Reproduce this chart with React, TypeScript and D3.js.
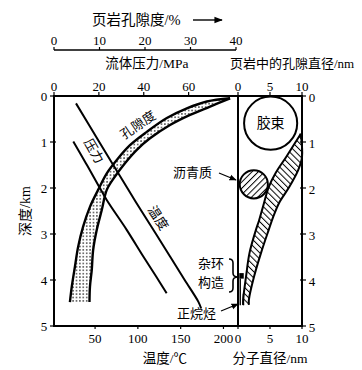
import React from 'react';
import * as d3 from 'd3';

// depth (km) shared by all panels
const depthTicks = [0, 1, 2, 3, 4, 5];
const tempTicks = [50, 100, 150, 200];
const pressureTicks = [0, 20, 40, 60];
const porosityTicks = [0, 10, 20, 30, 40];
const diameterTicks = [0, 5, 10];

// fluid pressure (MPa) vs depth
const pressureDepth = [0.99, 1.46, 1.9, 2.26, 2.91, 3.49, 3.93, 4.29];
const pressureMPa = [8.6, 14.2, 19.3, 23.5, 32.4, 39.8, 45.6, 50.2];

// temperature (°C) vs depth
const tempDepth = [0.16, 1.0, 1.5, 2.04, 2.5, 3.0, 3.5, 4.0, 4.47, 4.62];
const tempC = [27.7, 54.9, 71.2, 88.9, 104.2, 121.2, 138, 154.7, 170.6, 174];

// shale porosity (%) band, two edges
const porUpperDepth = [0.05, 0.12, 0.27, 0.48, 0.78, 1.07, 1.39, 1.68, 2.04, 2.41, 2.84, 3.28, 3.71, 4.15, 4.48];
const porUpper = [38.7, 33.6, 29.2, 24.8, 20.4, 16.7, 13.8, 11.6, 9.7, 7.9, 6.4, 5.3, 4.6, 3.9, 3.5];
const porLowerDepth = [0.05, 0.23, 0.41, 0.63, 0.92, 1.17, 1.46, 1.75, 2.04, 2.48, 2.91, 3.35, 3.78, 4.15, 4.48];
const porLower = [38.7, 34.3, 29.9, 25.5, 21.1, 18.2, 15.6, 13.4, 11.6, 10.5, 9.4, 8.6, 8.3, 7.9, 7.8];

// pore diameter (nm) band in shale, two edges
const poreLeftDepth = [0.82, 0.89, 1.33, 1.67, 1.98, 2.41, 2.7, 2.91, 3.41, 3.93, 4.43, 4.54];
const poreLeftNm = [9.8, 9.5, 7.5, 5.9, 4.8, 3.9, 3.3, 2.8, 1.8, 1.25, 0.8, 0.8];
const poreRightDepth = [0.82, 1.33, 1.61, 1.98, 2.33, 2.63, 2.91, 3.41, 3.93, 4.43, 4.54];
const poreRightNm = [9.8, 10, 9.4, 8.0, 6.4, 5.5, 4.8, 3.6, 2.5, 1.7, 1.7];

// molecules: [diameter nm, depth km, radius nm]
const micelle = [5.1, 0.59, 4.15];
const asphaltene = [2.47, 1.92, 2.2];
// heterocyclic box [nm0, nm1, depth0, depth1]
const heteroBox = [0.2, 0.9, 3.85, 3.97];
// n-alkane rods [nm, depth0, depth1]
const alkaneRods = [
  [0.35, 3.97, 4.55],
  [0.85, 4.3, 4.55],
];

const FONT = "'Liberation Serif', 'Noto Sans CJK SC', serif";

const App: React.FC = () => {
  const y = d3.scaleLinear().domain([0, 5]).range([96, 326]);
  const xT = d3.scaleLinear().domain([2, 217]).range([54, 238]);
  const xP = d3.scaleLinear().domain([0, 82]).range([54, 238]);
  const xPor = d3.scaleLinear().domain([0, 40]).range([54, 236]);
  const xD = d3.scaleLinear().domain([0, 10]).range([238, 302]);

  const pts = (xs: number[], ds: number[]) => xs.map((v, i) => [v, ds[i]] as [number, number]);

  const lineP = d3.line<[number, number]>().x(d => xP(d[0])).y(d => y(d[1])).curve(d3.curveCatmullRom);
  const lineT = d3.line<[number, number]>().x(d => xT(d[0])).y(d => y(d[1])).curve(d3.curveCatmullRom);
  const linePor = d3.line<[number, number]>().x(d => xPor(d[0])).y(d => y(d[1])).curve(d3.curveCatmullRom);
  const lineD = d3.line<[number, number]>().x(d => xD(d[0])).y(d => y(d[1])).curve(d3.curveCatmullRom);

  const porUp = pts(porUpper, porUpperDepth);
  const porLo = pts(porLower, porLowerDepth);
  const porArea = (linePor(porUp) || '') + 'L' + (linePor(porLo.slice().reverse()) || '').slice(1) + 'Z';

  const poreL = pts(poreLeftNm, poreLeftDepth);
  const poreR = pts(poreRightNm, poreRightDepth);
  const poreArea = (lineD(poreL) || '') + 'L' + (lineD(poreR.slice().reverse()) || '').slice(1) + 'Z';

  const pxPerNm = xD(1) - xD(0);

  return (
    <svg width={362} height={370} style={{ position: 'absolute', left: 0, top: 0, background: '#fff' }}
      fontFamily={FONT} fill="#000">
      <defs>
        <pattern id="dots" width={3.4} height={3.4} patternUnits="userSpaceOnUse">
          <circle cx={1.7} cy={1.7} r={0.75} fill="#222" />
        </pattern>
        <pattern id="hatchBand" width={4.4} height={4.4} patternUnits="userSpaceOnUse" patternTransform="rotate(-45)">
          <line x1={0} y1={0} x2={0} y2={4.4} stroke="#000" strokeWidth={2} />
        </pattern>
        <pattern id="hatchCircle" width={4.4} height={4.4} patternUnits="userSpaceOnUse" patternTransform="rotate(45)">
          <line x1={0} y1={0} x2={0} y2={4.4} stroke="#000" strokeWidth={2} />
        </pattern>
        <marker id="arr" viewBox="0 0 10 10" refX={9} refY={5} markerWidth={6} markerHeight={6} orient="auto">
          <path d="M0,1 L10,5 L0,9 Z" fill="#000" />
        </marker>
      </defs>

      {/* porosity title and axis */}
      <text x={92} y={20} fontSize={14.5} dominantBaseline="central">页岩孔隙度/%</text>
      <line x1={193} x2={222} y1={20} y2={20} stroke="#000" strokeWidth={1.4} markerEnd="url(#arr)" />
      <line x1={xPor(0)} x2={xPor(40)} y1={50} y2={50} stroke="#000" strokeWidth={1.4} />
      {porosityTicks.map(t => (
        <g key={'po' + t}>
          <line x1={xPor(t)} x2={xPor(t)} y1={50} y2={47} stroke="#000" strokeWidth={1.2} />
          <text x={xPor(t)} y={40} fontSize={13} textAnchor="middle" dominantBaseline="central">{t}</text>
        </g>
      ))}
      <text x={147} y={63} fontSize={13.5} textAnchor="middle" dominantBaseline="central">流体压力/MPa</text>
      <text x={230} y={63} fontSize={13} dominantBaseline="central">页岩中的孔隙直径/nm</text>

      {/* top ticks: pressure and diameter */}
      {pressureTicks.map(t => (
        <g key={'p' + t}>
          <line x1={xP(t)} x2={xP(t)} y1={96} y2={92} stroke="#000" strokeWidth={1.2} />
          <text x={xP(t)} y={86} fontSize={13} textAnchor="middle" dominantBaseline="central">{t}</text>
        </g>
      ))}
      {diameterTicks.map(t => (
        <g key={'dt' + t}>
          <line x1={xD(t)} x2={xD(t)} y1={96} y2={92} stroke="#000" strokeWidth={1.2} />
          <text x={xD(t)} y={86} fontSize={13} textAnchor="middle" dominantBaseline="central">{t}</text>
          <line x1={xD(t)} x2={xD(t)} y1={326} y2={329} stroke="#000" strokeWidth={1.2} />
          <text x={xD(t)} y={338} fontSize={13} textAnchor="middle" dominantBaseline="central">{t}</text>
        </g>
      ))}

      {/* bottom temperature ticks */}
      {tempTicks.map(t => (
        <g key={'t' + t}>
          <line x1={xT(t)} x2={xT(t)} y1={326} y2={329} stroke="#000" strokeWidth={1.2} />
          <text x={xT(t)} y={338} fontSize={13} textAnchor="middle" dominantBaseline="central">{t}</text>
        </g>
      ))}
      <text x={165} y={358} fontSize={13.5} textAnchor="middle" dominantBaseline="central">温度/℃</text>
      <text x={270} y={358} fontSize={13.5} textAnchor="middle" dominantBaseline="central">分子直径/nm</text>

      {/* depth ticks left and right */}
      {depthTicks.map(t => (
        <g key={'d' + t}>
          <line x1={50} x2={56} y1={y(t)} y2={y(t)} stroke="#000" strokeWidth={1.2} />
          <text x={44} y={y(t)} fontSize={13} textAnchor="middle" dominantBaseline="central">{t}</text>
          <line x1={300} x2={306} y1={y(t)} y2={y(t)} stroke="#000" strokeWidth={1.2} />
          <text x={312} y={y(t) + 1} fontSize={13} textAnchor="middle" dominantBaseline="central">{t}</text>
        </g>
      ))}
      <text transform={`translate(25,${y(2.5)}) rotate(-90)`} fontSize={14} textAnchor="middle" dominantBaseline="central">深度/km</text>

      {/* porosity band */}
      <path d={porArea} fill="url(#dots)" />
      <path d={linePor(porUp) || ''} fill="none" stroke="#000" strokeWidth={2.4} />
      <path d={linePor(porLo) || ''} fill="none" stroke="#000" strokeWidth={2.4} />

      {/* pressure and temperature */}
      <path d={lineP(pts(pressureMPa, pressureDepth)) || ''} fill="none" stroke="#000" strokeWidth={2} />
      <path d={lineT(pts(tempC, tempDepth)) || ''} fill="none" stroke="#000" strokeWidth={2} />

      <text transform="translate(138,125) rotate(-34)" fontSize={13} textAnchor="middle" dominantBaseline="central">孔隙度</text>
      <text transform="translate(94,151) rotate(60)" fontSize={13} textAnchor="middle" dominantBaseline="central">压力</text>
      <text transform="translate(158,218) rotate(57)" fontSize={13} textAnchor="middle" dominantBaseline="central">温度</text>

      {/* right panel molecules */}
      <circle cx={xD(micelle[0])} cy={y(micelle[1])} r={micelle[2] * pxPerNm} fill="#fff" stroke="#000" strokeWidth={2} />
      <text x={xD(micelle[0])} y={y(micelle[1])} fontSize={14} textAnchor="middle" dominantBaseline="central">胶束</text>
      <path d={poreArea} fill="url(#hatchBand)" />
      <path d={lineD(poreL) || ''} fill="none" stroke="#000" strokeWidth={2} />
      <path d={lineD(poreR) || ''} fill="none" stroke="#000" strokeWidth={2} />
      <circle cx={xD(asphaltene[0])} cy={y(asphaltene[1])} r={asphaltene[2] * pxPerNm} fill="url(#hatchCircle)" stroke="#000" strokeWidth={2} />
      <rect x={xD(heteroBox[0])} y={y(heteroBox[2])} width={xD(heteroBox[1]) - xD(heteroBox[0])}
        height={y(heteroBox[3]) - y(heteroBox[2])} fill="#000" />
      {alkaneRods.map((r, i) => (
        <line key={'a' + i} x1={xD(r[0])} x2={xD(r[0])} y1={y(r[1])} y2={y(r[2])} stroke="#000" strokeWidth={1.4} />
      ))}

      {/* labels with pointers */}
      <text x={173} y={172} fontSize={13} dominantBaseline="central">沥青质</text>
      <line x1={219} y1={173} x2={236} y2={180} stroke="#000" strokeWidth={1.2} markerEnd="url(#arr)" />
      <text x={198} y={263} fontSize={13} dominantBaseline="central">杂环</text>
      <text x={198} y={282} fontSize={13} dominantBaseline="central">构造</text>
      <path d="M229,259 Q233,259 233,263 L233,273 Q233,277 238,277 Q233,277 233,281 L233,288 Q233,292 229,292"
        fill="none" stroke="#000" strokeWidth={1.6} />
      <text x={177} y={313} fontSize={13} dominantBaseline="central">正烷烃</text>
      <line x1={221} y1={311} x2={238} y2={304} stroke="#000" strokeWidth={1.2} markerEnd="url(#arr)" />

      {/* frames */}
      <rect x={54} y={96} width={184} height={230} fill="none" stroke="#000" strokeWidth={2} />
      <rect x={238} y={96} width={64} height={230} fill="none" stroke="#000" strokeWidth={2} />
    </svg>
  );
};

export default App;
